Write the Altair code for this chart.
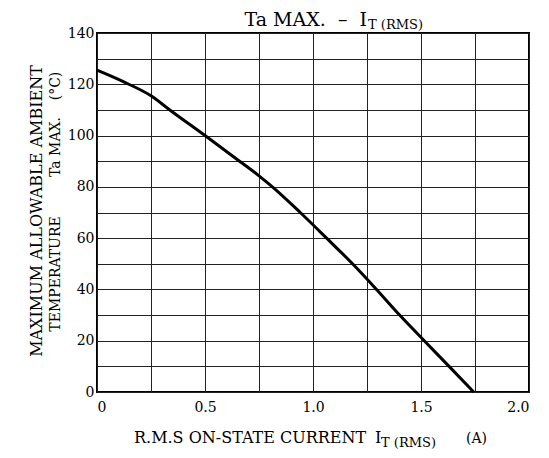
import altair as alt
import pandas as pd

# Curve
current = [0.0, 0.122, 0.25, 0.337, 0.5, 0.66, 0.75, 0.812, 0.941, 1.063,
           1.183, 1.294, 1.401, 1.515, 1.63, 1.744]
temp = [125.5, 121, 115.5, 110, 100, 90, 84.3, 80, 70, 60,
        50, 40, 30, 20, 10, 0]

x_ticks = [0, 0.25, 0.5, 0.75, 1.0, 1.25, 1.5, 1.75, 2.0]
y_ticks = list(range(0, 150, 10))

NB = "\u00a0"
title_main = f"Ta{NB}MAX.{NB}{NB}\u2013{NB}{NB}I"
title_sub = f"T{NB}(RMS)"
x_title_main = "R.M.S ON-STATE CURRENT"
x_title_i = "I"
x_title_sub = f"T{NB}(RMS)"
x_title_unit = "(A)"
y_title_1 = "MAXIMUM ALLOWABLE AMBIENT"
y_title_2a = "TEMPERATURE"
y_title_2b = f"Ta{NB}MAX."
y_title_2c = "(\u00b0C)"

FONT = "DejaVu Serif"

df = pd.DataFrame({"current": current, "temp": temp})

xaxis = alt.Axis(
    values=x_ticks, grid=True, gridColor="#222", gridWidth=1, domain=False,
    ticks=False, labelPadding=8, labelFont=FONT, labelFontSize=14,
    labelColor="black", title=None,
    labelExpr="datum.value % 0.5 == 0 ? (datum.value == 0 ? '0' : format(datum.value, '.1f')) : ''",
)
yaxis = alt.Axis(
    values=y_ticks, grid=True, gridColor="#222", gridWidth=1, domain=False,
    ticks=False, labelPadding=3, labelFont=FONT, labelFontSize=14,
    labelColor="black", title=None,
    labelExpr="datum.value % 20 == 0 ? datum.label : ''",
)

line = alt.Chart(df).mark_line(color="black", strokeWidth=3, interpolate="monotone").encode(
    x=alt.X("current:Q", scale=alt.Scale(domain=[0, 2], nice=False), axis=xaxis),
    y=alt.Y("temp:Q", scale=alt.Scale(domain=[0, 140], nice=False), axis=yaxis),
)


def txt(s, x, y, size, align="left", angle=0, baseline="alphabetic"):
    kw = dict(font=FONT, fontSize=size, align=align, baseline=baseline, color="black")
    if angle:
        kw["angle"] = angle
    return alt.Chart(pd.DataFrame({"t": [s]})).mark_text(**kw).encode(
        text="t:N", x=alt.value(x), y=alt.value(y)
    )


layers = [
    line,
    txt(title_main, 270, -7, 19, align="right"),
    txt(title_sub, 271, -4, 13),
    txt(x_title_main, 37, 410, 16),
    txt(x_title_i, 278, 410, 16),
    txt(x_title_sub, 284, 414, 13),
    txt(x_title_unit, 369, 410, 14),
    txt(y_title_1, -60, 178, 16, align="center", angle=270, baseline="middle"),
    txt(y_title_2a, -41, 241, 14, align="center", angle=270, baseline="middle"),
    txt(y_title_2b, -41, 114, 14, align="center", angle=270, baseline="middle"),
    txt(y_title_2c, -41, 53, 14, align="center", angle=270, baseline="middle"),
]

chart = alt.layer(*layers).properties(
    width=432, height=359,
    autosize=alt.AutoSizeParams(type="none"),
    padding={"left": 89, "top": 25, "right": 12, "bottom": 58},
).configure_view(stroke="black", strokeWidth=2)

chart.save("out.html", embed_options={"renderer": "svg", "actions": False})
